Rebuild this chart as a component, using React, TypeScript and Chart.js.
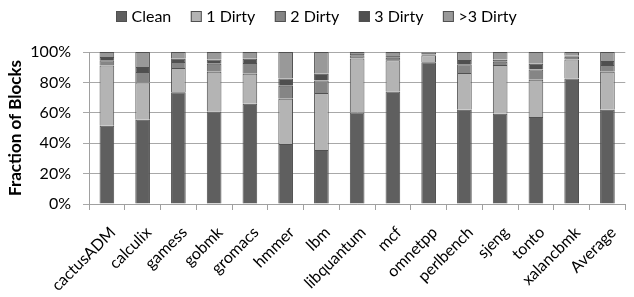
import React, { useEffect, useRef } from "react";
import { Chart, registerables } from "chart.js";

Chart.register(...registerables);

const categories = ["cactusADM", "calculix", "gamess", "gobmk", "gromacs", "hmmer", "lbm", "libquantum", "mcf", "omnetpp", "perlbench", "sjeng", "tonto", "xalancbmk", "Average"];
const clean = [51.4, 55.4, 73.6, 60.9, 65.9, 39.5, 35.6, 60.2, 74.0, 93.3, 62.0, 59.3, 57.3, 82.6, 62.0];
const dirty1 = [39.8, 24.6, 15.8, 26.1, 19.8, 29.7, 37.4, 35.6, 20.5, 4.5, 24.2, 32.1, 24.4, 12.5, 25.0];
const dirty2 = [3.3, 6.8, 4.0, 5.3, 7.0, 8.6, 8.3, 2.0, 1.7, 0.6, 5.7, 2.2, 6.8, 1.8, 4.4];
const dirty3 = [2.2, 3.3, 2.2, 2.8, 2.9, 4.8, 4.4, 0.9, 1.6, 1.2, 2.8, 1.3, 3.8, 0.7, 2.7];
const dirtyMore = [3.3, 9.9, 4.4, 4.9, 4.4, 17.4, 14.3, 1.3, 2.2, 0.4, 5.3, 5.1, 7.7, 2.4, 5.9];
const seriesNames = ["Clean", "1 Dirty", "2 Dirty", "3 Dirty", ">3 Dirty"];
const yTicks = [0, 20, 40, 60, 80, 100];

const colors = ["#5f5f5f", "#b4b4b4", "#858585", "#4f4f4f", "#999999"];
const FONT = "Lato, 'Open Sans', sans-serif";

const legendPlugin = {
  id: "excelLegend",
  afterDraw(chart: any) {
    const ctx = chart.ctx;
    ctx.save();
    ctx.font = `16px ${FONT}`;
    ctx.textBaseline = "middle";
    ctx.textAlign = "left";
    let x = 116;
    const y = 16.5;
    const box = 11;
    chart.data.datasets.forEach((ds: any) => {
      ctx.fillStyle = ds.backgroundColor;
      ctx.fillRect(x, y - box / 2, box, box);
      ctx.strokeStyle = "#505050";
      ctx.lineWidth = 1;
      ctx.strokeRect(x + 0.5, y - box / 2 + 0.5, box - 1, box - 1);
      x += box + 4.5;
      ctx.fillStyle = "#000";
      ctx.fillText(ds.label, x, y);
      x += ctx.measureText(ds.label).width + 19.5;
    });
    ctx.restore();
  },
};

export default function App() {
  const ref = useRef<HTMLCanvasElement | null>(null);
  useEffect(() => {
    document.body.style.margin = "0";
    const values = [clean, dirty1, dirty2, dirty3, dirtyMore];
    const chart = new Chart(ref.current as HTMLCanvasElement, {
      type: "bar",
      data: {
        labels: categories,
        datasets: seriesNames.map((name, i) => ({
          label: name,
          data: values[i],
          backgroundColor: colors[i],
          borderColor: "#505050",
          borderWidth: 1,
          categoryPercentage: 1,
          barPercentage: 0.41,
        })),
      },
      options: {
        animation: false,
        responsive: false,
        maintainAspectRatio: false,
        layout: { padding: { left: 0, right: 0, top: 52, bottom: 0 } },
        plugins: {
          tooltip: { enabled: false },
          legend: { display: false },
        },
        scales: {
          x: {
            stacked: true,
            afterFit: (scale: any) => {
              scale.height = 93;
            },
            grid: { drawOnChartArea: false, drawTicks: true, tickLength: 6, color: "#a0a0a0", offset: true },
            border: { color: "#a0a0a0" },
            ticks: {
              minRotation: 45,
              maxRotation: 45,
              autoSkip: false,
              color: "#000",
              font: { family: FONT, size: 16 },
              padding: 13,
              labelOffset: 6,
            },
          },
          y: {
            stacked: true,
            min: 0,
            max: 100,
            afterFit: (scale: any) => {
              scale.width = 89;
            },
            afterBuildTicks: (axis: any) => {
              axis.ticks = yTicks.map((v) => ({ value: v }));
            },
            grid: { color: "#a8a8a8", tickLength: 6 },
            border: { color: "#a0a0a0" },
            ticks: {
              color: "#000",
              font: { family: FONT, size: 16 },
              callback: (v: any) => v + "%",
              padding: 12,
            },
            title: {
              display: true,
              text: "Fraction of Blocks",
              color: "#000",
              font: { family: FONT, size: 17, weight: "bold" },
              padding: { top: 5, bottom: 0 },
            },
          },
        },
      },
      plugins: [legendPlugin],
    });
    return () => chart.destroy();
  }, []);
  return (
    <div style={{ width: 634, height: 297 }}>
      <canvas ref={ref} width={634} height={297} style={{ width: 634, height: 297, display: "block" }} />
    </div>
  );
}
